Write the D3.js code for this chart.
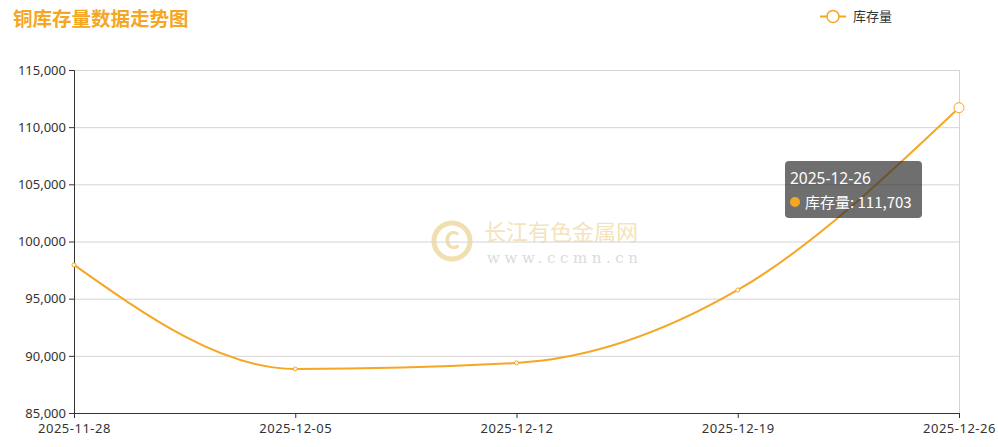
<!DOCTYPE html>
<html>
<head>
<meta charset="utf-8">
<script src="https://cdn.jsdelivr.net/npm/d3@7/dist/d3.min.js"></script>
<style>
  body { margin: 0; background: #fff; }
  svg { display: block; font-family: "Noto Sans CJK SC", "Noto Sans", sans-serif; }
</style>
</head>
<body>
<svg id="chart" width="998" height="447"></svg>
<script>
// chart data
const dates = ['2025-11-28', '2025-12-05', '2025-12-12', '2025-12-19', '2025-12-26'];
const stock = [97950, 88850, 89380, 95760, 111703];
const yTicks = [85000, 90000, 95000, 100000, 105000, 110000, 115000];

const orange = '#f5a623';
const svg = d3.select('#chart');
const margin = { left: 74, right: 39, top: 70, bottom: 34 };
const W = 998, H = 447;

const x = d3.scalePoint().domain(dates).range([margin.left, W - margin.right]);
const y = d3.scaleLinear().domain([85000, 115000]).range([H - margin.bottom, margin.top]);

// watermark
const wm = svg.append('g').attr('opacity', 0.35);
wm.append('circle').attr('cx', 452).attr('cy', 241).attr('r', 18)
  .attr('fill', 'none').attr('stroke', '#d9a520').attr('stroke-width', 5);
wm.append('text').attr('x', 452).attr('y', 249).attr('text-anchor', 'middle')
  .attr('font-size', 24).attr('font-weight', 'bold').attr('fill', '#d9a520').text('C');
wm.append('text').attr('x', 484).attr('y', 240).attr('font-size', 22)
  .attr('fill', '#e0b040').text('长江有色金属网');
wm.append('text').attr('x', 487).attr('y', 263).attr('font-size', 15)
  .attr('font-family', '"DejaVu Serif", serif').attr('letter-spacing', 4.6)
  .attr('fill', '#999').text('www.ccmn.cn');

// grid lines
svg.append('g').selectAll('line').data(yTicks).join('line')
  .attr('x1', margin.left).attr('x2', W - margin.right)
  .attr('y1', d => y(d) + 0.5).attr('y2', d => y(d) + 0.5)
  .attr('stroke', '#d4d4d4');
svg.append('line')
  .attr('x1', W - margin.right + 0.5).attr('x2', W - margin.right + 0.5)
  .attr('y1', margin.top).attr('y2', H - margin.bottom)
  .attr('stroke', '#d4d4d4');

// axes
const yAxis = svg.append('g').attr('transform', `translate(${margin.left},0)`)
  .call(d3.axisLeft(y).tickValues(yTicks).tickSize(5).tickPadding(3).tickFormat(d3.format(',')));
const xAxis = svg.append('g').attr('transform', `translate(0,${H - margin.bottom})`)
  .call(d3.axisBottom(x).tickSize(5).tickPadding(6));
[xAxis, yAxis].forEach(a => {
  a.select('.domain').attr('stroke', '#333');
  a.selectAll('.tick line').attr('stroke', '#333');
  a.selectAll('text').attr('fill', '#333').attr('font-size', 13)
    .attr('font-family', '"Noto Sans", sans-serif');
});
xAxis.selectAll('text').attr('letter-spacing', 0.5);

// line
const pts = dates.map((d, i) => ({ date: d, value: stock[i] }));
const line = d3.line().x(d => x(d.date)).y(d => y(d.value)).curve(d3.curveMonotoneX);
svg.append('path').datum(pts).attr('d', line)
  .attr('fill', 'none').attr('stroke', orange).attr('stroke-width', 2);

svg.append('g').selectAll('circle').data(pts).join('circle')
  .attr('cx', d => x(d.date)).attr('cy', d => y(d.value))
  .attr('r', (d, i) => i === pts.length - 1 ? 5 : 2)
  .attr('fill', '#fff').attr('stroke', orange).attr('stroke-width', 1);

// title
svg.append('text').attr('x', 13).attr('y', 26).attr('font-size', 19.5).attr('font-weight', 'bold')
  .attr('fill', orange).text('铜库存量数据走势图');

// legend
const lg = svg.append('g');
lg.append('line').attr('x1', 820).attr('x2', 846).attr('y1', 16.5).attr('y2', 16.5)
  .attr('stroke', orange).attr('stroke-width', 2);
lg.append('circle').attr('cx', 833).attr('cy', 16.5).attr('r', 6)
  .attr('fill', '#fff').attr('stroke', orange).attr('stroke-width', 1.5);
lg.append('text').attr('x', 853).attr('y', 21).attr('font-size', 13).attr('fill', '#333').text('库存量');

// tooltip for last point
const last = pts[pts.length - 1];
const tip = svg.append('g').attr('transform', 'translate(785,161)');
tip.append('rect').attr('width', 137).attr('height', 57).attr('rx', 4)
  .attr('fill', 'rgba(50,50,50,0.7)');
tip.append('text').attr('x', 5).attr('y', 23).attr('font-size', 15.5)
  .attr('font-family', '"Noto Sans", sans-serif').attr('fill', '#fff').text(last.date);
tip.append('circle').attr('cx', 10).attr('cy', 41).attr('r', 5).attr('fill', orange);
tip.append('text').attr('x', 20).attr('y', 47).attr('font-size', 15).attr('fill', '#fff')
  .text('库存量: ' + d3.format(',')(last.value));
</script>
</body>
</html>
